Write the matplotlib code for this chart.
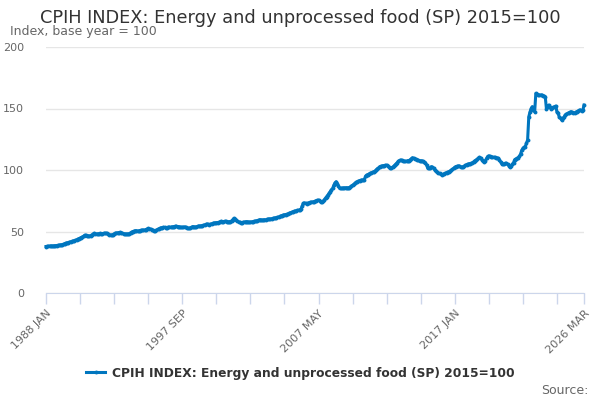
import numpy as np
import matplotlib
matplotlib.use("Agg")
import matplotlib.pyplot as plt
from matplotlib.ticker import FixedLocator

plt.rcParams['font.family'] = ['DejaVu Sans']

# monthly index values, 1988 JAN .. 2026 MAR
values_by_year = {
    1988: [37.8, 37.9, 38.0, 38.2, 38.3, 38.3, 38.2, 38.4, 38.5, 38.6, 38.7, 38.8],
    1989: [39.0, 39.2, 39.4, 39.8, 40.2, 40.6, 40.8, 41.0, 41.3, 41.7, 41.9, 42.2],
    1990: [42.5, 42.8, 43.2, 43.8, 44.2, 44.6, 45.1, 45.6, 46.2, 47.0, 46.8, 46.6],
    1991: [46.5, 46.3, 46.6, 47.2, 47.8, 48.5, 48.3, 48.0, 48.1, 48.2, 48.4, 48.2],
    1992: [48.3, 48.5, 48.6, 48.4, 48.5, 48.0, 47.5, 47.2, 47.0, 47.5, 48.0, 48.6],
    1993: [48.8, 49.0, 49.1, 49.3, 49.0, 48.6, 48.3, 48.1, 47.9, 48.0, 47.8, 48.3],
    1994: [49.0, 49.6, 50.0, 50.3, 50.6, 50.7, 50.2, 50.5, 50.8, 51.0, 51.1, 51.2],
    1995: [51.2, 51.6, 52.0, 52.5, 52.3, 52.0, 51.5, 51.0, 50.8, 50.7, 51.2, 51.8],
    1996: [52.2, 52.6, 53.0, 53.2, 53.4, 53.3, 53.0, 53.2, 53.5, 53.6, 53.4, 53.7],
    1997: [53.8, 54.0, 54.1, 54.2, 54.0, 54.0, 53.6, 53.4, 53.3, 53.5, 53.8, 53.4],
    1998: [52.8, 52.5, 52.6, 53.0, 53.6, 54.0, 53.8, 53.6, 53.8, 54.2, 54.5, 54.4],
    1999: [54.6, 54.8, 55.0, 55.4, 55.7, 56.0, 55.8, 55.5, 55.9, 56.3, 56.6, 56.9],
    2000: [57.0, 57.2, 57.3, 57.4, 57.8, 58.3, 58.1, 57.9, 58.3, 58.2, 58.0, 57.9],
    2001: [58.0, 58.1, 58.6, 59.6, 60.7, 60.2, 59.2, 58.4, 57.8, 57.5, 57.3, 57.2],
    2002: [57.6, 57.8, 57.9, 58.0, 57.8, 57.6, 57.7, 57.9, 58.0, 58.2, 58.3, 58.6],
    2003: [58.9, 59.3, 59.6, 59.5, 59.2, 59.4, 59.6, 59.5, 59.8, 60.0, 60.2, 60.2],
    2004: [60.4, 60.6, 60.8, 61.0, 61.3, 61.5, 61.8, 62.2, 62.6, 63.0, 63.4, 63.6],
    2005: [63.8, 64.0, 64.3, 64.8, 65.2, 65.6, 66.0, 66.3, 66.6, 66.8, 67.2, 67.4],
    2006: [67.5, 68.0, 70.5, 72.9, 73.2, 73.0, 72.7, 73.1, 73.4, 73.6, 73.9, 74.1],
    2007: [74.2, 74.6, 75.0, 75.3, 75.6, 75.1, 74.3, 73.7, 74.6, 76.0, 77.2, 78.3],
    2008: [79.7, 81.0, 82.5, 84.0, 85.0, 87.5, 89.5, 90.5, 89.0, 87.0, 85.0, 85.0],
    2009: [85.2, 85.4, 85.5, 85.6, 85.6, 85.4, 85.7, 86.1, 87.0, 87.6, 88.3, 89.2],
    2010: [90.0, 90.5, 91.0, 91.4, 91.7, 91.9, 91.5, 92.2, 95.0, 95.9, 96.3, 96.8],
    2011: [97.4, 97.8, 98.2, 98.6, 99.0, 100.0, 101.0, 101.5, 102.7, 103.0, 103.2, 103.5],
    2012: [103.6, 103.8, 104.0, 103.4, 102.5, 101.4, 101.8, 102.3, 103.0, 104.0, 105.0, 106.0],
    2013: [107.0, 107.8, 108.0, 107.8, 107.4, 107.2, 107.0, 107.2, 107.6, 107.7, 108.3, 109.2],
    2014: [110.0, 109.6, 109.0, 108.6, 108.3, 107.9, 107.3, 107.5, 107.4, 107.0, 106.5, 106.0],
    2015: [104.0, 101.4, 101.5, 101.8, 102.7, 102.3, 101.5, 100.0, 99.0, 98.2, 97.6, 97.2],
    2016: [96.5, 96.2, 96.4, 96.9, 97.3, 97.8, 98.4, 98.6, 99.2, 99.8, 100.5, 101.4],
    2017: [102.2, 102.8, 103.0, 103.2, 103.3, 102.6, 102.2, 102.6, 103.0, 103.8, 104.3, 104.8],
    2018: [105.0, 105.2, 105.4, 105.8, 106.6, 107.5, 108.0, 108.6, 109.4, 110.3, 109.8, 108.4],
    2019: [107.4, 106.8, 107.5, 109.4, 111.0, 111.4, 111.0, 110.8, 110.6, 110.3, 110.2, 110.0],
    2020: [109.8, 109.5, 108.4, 106.6, 105.0, 104.6, 105.0, 105.3, 105.4, 104.5, 103.5, 102.7],
    2021: [103.3, 104.5, 106.0, 108.5, 109.0, 109.5, 110.0, 111.0, 113.0, 116.0, 117.6, 118.5],
    2022: [119.0, 121.7, 124.4, 143.3, 147.0, 150.0, 151.5, 149.0, 147.4, 162.3, 161.5, 161.0],
    2023: [161.0, 161.0, 161.0, 160.5, 160.0, 159.6, 150.0, 151.0, 152.8, 151.0, 150.0, 150.5],
    2024: [151.0, 151.5, 152.0, 147.0, 146.0, 143.0, 142.0, 140.6, 142.0, 143.0, 144.7, 145.5],
    2025: [146.0, 146.5, 147.0, 147.4, 146.8, 146.0, 146.5, 147.0, 147.4, 148.0, 148.5, 148.8],
    2026: [148.2, 148.5, 152.8],
}
month_names = ['JAN', 'FEB', 'MAR', 'APR', 'MAY', 'JUN',
               'JUL', 'AUG', 'SEP', 'OCT', 'NOV', 'DEC']

labels = []
values = []
for year, vals in values_by_year.items():
    for i, v in enumerate(vals):
        labels.append(f"{year} {month_names[i]}")
        values.append(v)
x = np.arange(len(values))

series_name = 'CPIH INDEX: Energy and unprocessed food (SP) 2015=100'
blue = '#0076bf'
grey = '#666666'
axis_col = '#ccd6eb'

fig = plt.figure(figsize=(6, 4), dpi=100)
ax = fig.add_axes([46/600, 1 - 293/400, 538/600, 246/400])

ax.plot(x, values, color=blue, lw=2.2, marker='o', ms=2.8, mew=0,
        label=series_name, clip_on=False, zorder=3)

ax.set_xlim(0, len(values) - 1)
ax.set_ylim(0, 200)
ax.set_yticks([0, 50, 100, 150, 200])
ax.grid(axis='y', color='#e6e6e6', lw=1)
ax.set_axisbelow(True)

# labelled ticks every 116 months plus the last month, minor ticks every 29
major = [0, 116, 232, 348, len(values) - 1]
ax.xaxis.set_major_locator(FixedLocator(major))
ax.set_xticklabels([labels[i] for i in major], rotation=45, ha='right',
                   rotation_mode='anchor', color=grey, fontsize=8)
ax.xaxis.set_minor_locator(FixedLocator(list(range(0, len(values), 29))))
ax.tick_params(axis='x', which='both', length=8, color=axis_col, width=1,
               direction='out', pad=3)
ax.tick_params(axis='y', length=0, labelcolor=grey, labelsize=8, pad=16)

for s in ['top', 'right', 'left']:
    ax.spines[s].set_visible(False)
ax.spines['bottom'].set_color(axis_col)

fig.text(0.5, 1 - 18/400, series_name, ha='center', va='center',
         fontsize=12.8, color='#333333')
fig.text(10/600, 1 - 32/400, 'Index, base year = 100', ha='left',
         va='center', fontsize=9, color=grey)

leg = fig.legend(loc='center', bbox_to_anchor=(0.5, 1 - 373/400), frameon=False,
                 prop={'weight': 'bold', 'size': 8.8}, handlelength=1.6,
                 handletextpad=0.5)
for t in leg.get_texts():
    t.set_color('#333333')

fig.text(588/600, 1 - 390/400, 'Source:', ha='right', va='center',
         fontsize=9, color=grey)

plt.savefig('out.png', dpi=100)
